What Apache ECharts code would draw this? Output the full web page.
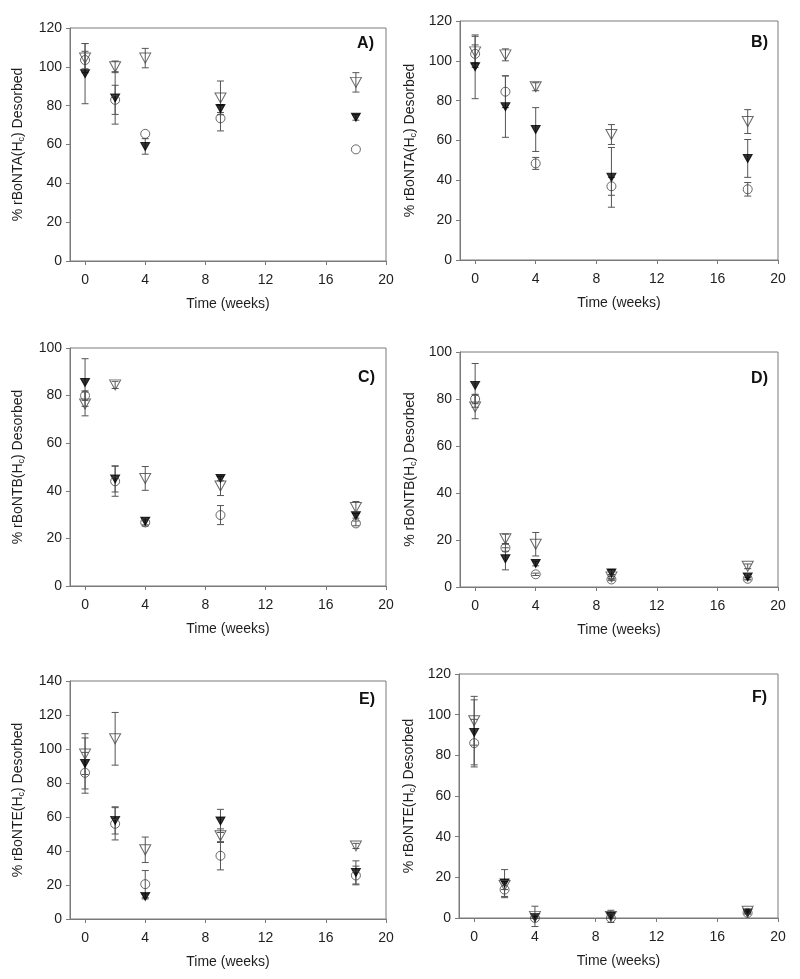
<!DOCTYPE html>
<html>
<head>
<meta charset="utf-8">
<script src="https://cdn.jsdelivr.net/npm/echarts@6/dist/echarts.min.js"></script>
<style>
html,body{margin:0;padding:0;background:#fff;}
#chart{width:800px;height:979px;}
</style>
</head>
<body>
<div id="chart"></div>
<script>
// ---- data ----
const weeks = [0, 2, 4, 9, 18];
const xTickValues = [0, 4, 8, 12, 16, 20];

// Panel A: rBoNTA(Hc)
const aFilled = [96.5, 84, 59, 78.5, 74];
const aFilledErr = [15.5, 13.5, 4, 2, 1.5];
const aCircle = [103.5, 83, 65.5, 73.5, 57.5];
const aCircleErr = [4.5, 7.5, 0, 6.5, 0];
const aOpen = [104.5, 100, 104.5, 84, 92];
const aOpenErr = [7.5, 3, 5, 8.7, 5];

// Panel B: rBoNTA(Hc)
const bFilled = [97, 77, 65.5, 41.5, 51];
const bFilledErr = [16, 15.4, 11, 15, 9.5];
const bCircle = [103.5, 84.5, 48.5, 37, 35.5];
const bCircleErr = [4.5, 8, 3, 4.5, 3.4];
const bOpen = [104.5, 103, 87, 63, 69.5];
const bOpenErr = [7.8, 3, 2, 5, 6];

// Panel C: rBoNTB(Hc)
const cFilled = [85.5, 45, 27.2, 45.2, 29.5];
const cFilledErr = [10, 5.5, 1.5, 1, 1];
const cCircle = [80, 44, 26.7, 29.8, 26.3];
const cCircleErr = [2, 6.3, 1.5, 4, 1];
const cOpen = [76.5, 84.5, 45.2, 42, 33];
const cOpenErr = [5, 1.5, 5, 4, 2.5];

// Panel D: rBoNTB(Hc)
const dFilled = [85.8, 12, 10, 6, 4.3];
const dFilledErr = [9.3, 4.7, 1, 1.5, 1];
const dCircle = [80, 16.7, 5.4, 3.2, 3.5];
const dCircleErr = [2, 1.5, 0.5, 0.5, 0.5];
const dOpen = [76.6, 20.5, 18.2, 4.3, 8.8];
const dOpenErr = [5, 2, 5, 1, 1];

// Panel E: rBoNTE(Hc)
const eFilled = [91.5, 58, 13.3, 57.7, 27.4];
const eFilledErr = [15, 8, 1.5, 6.8, 6.8];
const eCircle = [86, 56, 20.5, 37.2, 25.6];
const eCircleErr = [12, 9.5, 8, 8.3, 5.5];
const eOpen = [97, 106, 40.7, 49, 43];
const eOpenErr = [12, 15.5, 7.5, 4, 1.5];

// Panel F: rBoNTE(Hc)
const fFilled = [91.3, 17.2, 0.3, 1, 2.5];
const fFilledErr = [16, 6.6, 0.5, 1, 0.5];
const fCircle = [86, 14, 0, 0, 2.5];
const fCircleErr = [11.7, 4, 0, 0, 0.5];
const fOpen = [97, 16, 0.8, 0.8, 3.3];
const fOpenErr = [12, 2, 5, 3, 0.5];

const panelLetters = ['A', 'B', 'C', 'D', 'E', 'F'];
const toxinNames = ['rBoNTA', 'rBoNTA', 'rBoNTB', 'rBoNTB', 'rBoNTE', 'rBoNTE'];
const yMaxes = [120, 120, 100, 100, 140, 120];
const xAxisTitle = 'Time (weeks)';
const yAxisSuffix = ' Desorbed';

// ---- layout ----
const FONT = '"Liberation Sans", Arial, Helvetica, sans-serif';
const AXIS_COLOR = '#7a7a7a';
const TEXT_COLOR = '#1e1e1e';
const grids = [
  {left: 70, top: 28, width: 316, height: 233},
  {left: 460, top: 21, width: 318, height: 239},
  {left: 70, top: 348, width: 316, height: 238},
  {left: 460, top: 352, width: 318, height: 235},
  {left: 70, top: 681, width: 316, height: 238},
  {left: 459, top: 674, width: 319, height: 244}
];
const nameGaps = [44, 42, 44, 42, 44, 42];
const labelPos = [[374, 44], [768, 43], [375, 378], [768, 379], [375, 700], [767, 698]];

const panelData = [
  [aFilled, aFilledErr, aCircle, aCircleErr, aOpen, aOpenErr],
  [bFilled, bFilledErr, bCircle, bCircleErr, bOpen, bOpenErr],
  [cFilled, cFilledErr, cCircle, cCircleErr, cOpen, cOpenErr],
  [dFilled, dFilledErr, dCircle, dCircleErr, dOpen, dOpenErr],
  [eFilled, eFilledErr, eCircle, eCircleErr, eOpen, eOpenErr],
  [fFilled, fFilledErr, fCircle, fCircleErr, fOpen, fOpenErr]
];

function pts(ys) { return weeks.map((x, i) => [x, ys[i]]); }
function errPts(ys, errs) {
  const out = [];
  weeks.forEach((x, i) => { if (errs[i] > 0) out.push([x, ys[i] - errs[i], ys[i] + errs[i]]); });
  return out;
}
function renderErr(params, api) {
  const x = api.value(0), lo = api.value(1), hi = api.value(2);
  const p1 = api.coord([x, hi]);
  const p2 = api.coord([x, lo]);
  const w = 3.5;
  const st = {stroke: '#555', lineWidth: 1};
  return {
    type: 'group',
    children: [
      {type: 'line', shape: {x1: p1[0], y1: p1[1], x2: p2[0], y2: p2[1]}, style: st},
      {type: 'line', shape: {x1: p1[0] - w, y1: p1[1], x2: p1[0] + w, y2: p1[1]}, style: st},
      {type: 'line', shape: {x1: p2[0] - w, y1: p2[1], x2: p2[0] + w, y2: p2[1]}, style: st}
    ]
  };
}

const option = {
  animation: false,
  backgroundColor: '#fff',
  textStyle: {fontFamily: FONT},
  grid: [], xAxis: [], yAxis: [], series: [], graphic: []
};

panelLetters.forEach((letter, k) => {
  option.grid.push(Object.assign({show: true, borderColor: AXIS_COLOR, borderWidth: 1, backgroundColor: 'transparent'}, grids[k]));
  option.xAxis.push({
    gridIndex: k, type: 'value', min: -1, max: 20,
    name: xAxisTitle, nameLocation: 'middle', nameGap: 36,
    nameTextStyle: {fontSize: 14, color: TEXT_COLOR, fontFamily: FONT},
    axisLine: {show: true, onZero: false, lineStyle: {color: AXIS_COLOR, width: 1}},
    axisTick: {show: true, length: 4, inside: false, lineStyle: {color: AXIS_COLOR}, customValues: xTickValues},
    axisLabel: {fontSize: 14, color: TEXT_COLOR, margin: 12, fontFamily: FONT, customValues: xTickValues},
    splitLine: {show: false}
  });
  option.yAxis.push({
    gridIndex: k, type: 'value', min: 0, max: yMaxes[k], interval: 20,
    name: '% ' + toxinNames[k] + '(H{s|c})' + yAxisSuffix,
    nameLocation: 'middle', nameRotate: 90, nameGap: nameGaps[k],
    nameTextStyle: {fontSize: 14, color: TEXT_COLOR, fontFamily: FONT,
      rich: {s: {fontSize: 9, color: TEXT_COLOR, fontFamily: FONT, verticalAlign: 'bottom', padding: [7, 0, 0, 0]}}},
    axisLine: {show: true, onZero: false, lineStyle: {color: AXIS_COLOR, width: 1}},
    axisTick: {show: true, length: 4, inside: false, lineStyle: {color: AXIS_COLOR}},
    axisLabel: {fontSize: 14, color: TEXT_COLOR, margin: 8, fontFamily: FONT},
    splitLine: {show: false}
  });
  const [fy, fe, cy, ce, oy, oe] = panelData[k];
  [[fy, fe], [cy, ce], [oy, oe]].forEach(([ys, es]) => {
    option.series.push({
      type: 'custom', xAxisIndex: k, yAxisIndex: k, renderItem: renderErr,
      data: errPts(ys, es), encode: {x: 0, y: [1, 2]}, z: 1, clip: false, silent: true
    });
  });
  option.series.push({
    type: 'scatter', xAxisIndex: k, yAxisIndex: k, data: pts(fy),
    symbol: 'triangle', symbolRotate: 180, symbolSize: [9, 8],
    itemStyle: {color: '#000', borderColor: '#000', borderWidth: 1}, z: 3
  });
  option.series.push({
    type: 'scatter', xAxisIndex: k, yAxisIndex: k, data: pts(cy),
    symbol: 'circle', symbolSize: 9,
    itemStyle: {color: 'rgba(255,255,255,0)', borderColor: '#444', borderWidth: 1}, z: 4
  });
  option.series.push({
    type: 'scatter', xAxisIndex: k, yAxisIndex: k, data: pts(oy),
    symbol: 'triangle', symbolRotate: 180, symbolSize: [11, 10],
    itemStyle: {color: 'rgba(255,255,255,0)', borderColor: '#444', borderWidth: 1}, z: 5
  });
  option.graphic.push({
    type: 'text', x: labelPos[k][0], y: labelPos[k][1],
    style: {text: letter + ')', fontSize: 16, fontWeight: 'bold', fill: '#111', fontFamily: FONT,
      textAlign: 'right', textVerticalAlign: 'middle'}
  });
});

const chart = echarts.init(document.getElementById('chart'), null, {renderer: 'canvas'});
chart.setOption(option);
</script>
</body>
</html>
